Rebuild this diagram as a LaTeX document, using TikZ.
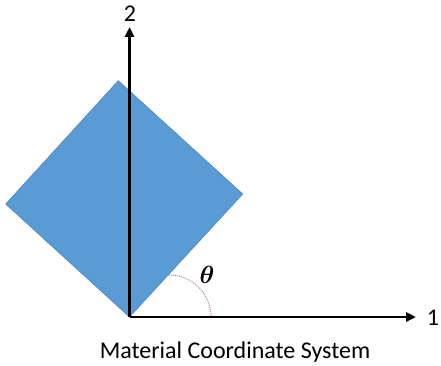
\documentclass[tikz,border=0pt]{standalone}
\usepackage{amsmath}
\usepackage{fontspec}
\setmainfont{Carlito}
\usetikzlibrary{arrows.meta}
\definecolor{sqblue}{HTML}{5B9BD5}
\definecolor{sqedge}{HTML}{4A86BE}
\definecolor{arccol}{HTML}{B08A90}
\tikzset{
  axis/.style={line width=2.8pt, -{Triangle[length=10pt,width=9pt]}},
  lbl/.style={font=\fontsize{24}{28}\selectfont, inner sep=0pt},
}
\newcommand{\thetalbl}{$\boldsymbol{\theta}$}
\begin{document}
\begin{tikzpicture}[x=1pt,y=-1pt]
\useasboundingbox (0,0) rectangle (441,366);
\coordinate (O) at (129.5,317);
\coordinate (T) at (118.3,80.7);
\coordinate (L) at (5.7,204);
\coordinate (R) at (242.7,194);
\fill[sqblue, draw=sqedge, line width=0.6pt] (O) -- (R) -- (T) -- (L) -- cycle;
\draw[arccol, densely dotted, line width=1pt] (169,275) arc[start angle=90, end angle=0, x radius=42, y radius=-42];
\coordinate (Y) at (129.5,27);
\coordinate (X) at (416,317);
\draw[axis] (O) -- (Y);
\draw[axis] (O) -- (X);
\node[lbl] (l2) at (130,14) {2};
\node[lbl] (l1) at (433,318) {1};
\node[font=\fontsize{26}{30}\selectfont, inner sep=0pt] (th) at (207,275) {\thetalbl};
\node[lbl] (cap) at (235,352) {Material Coordinate System};
\end{tikzpicture}
\end{document}
